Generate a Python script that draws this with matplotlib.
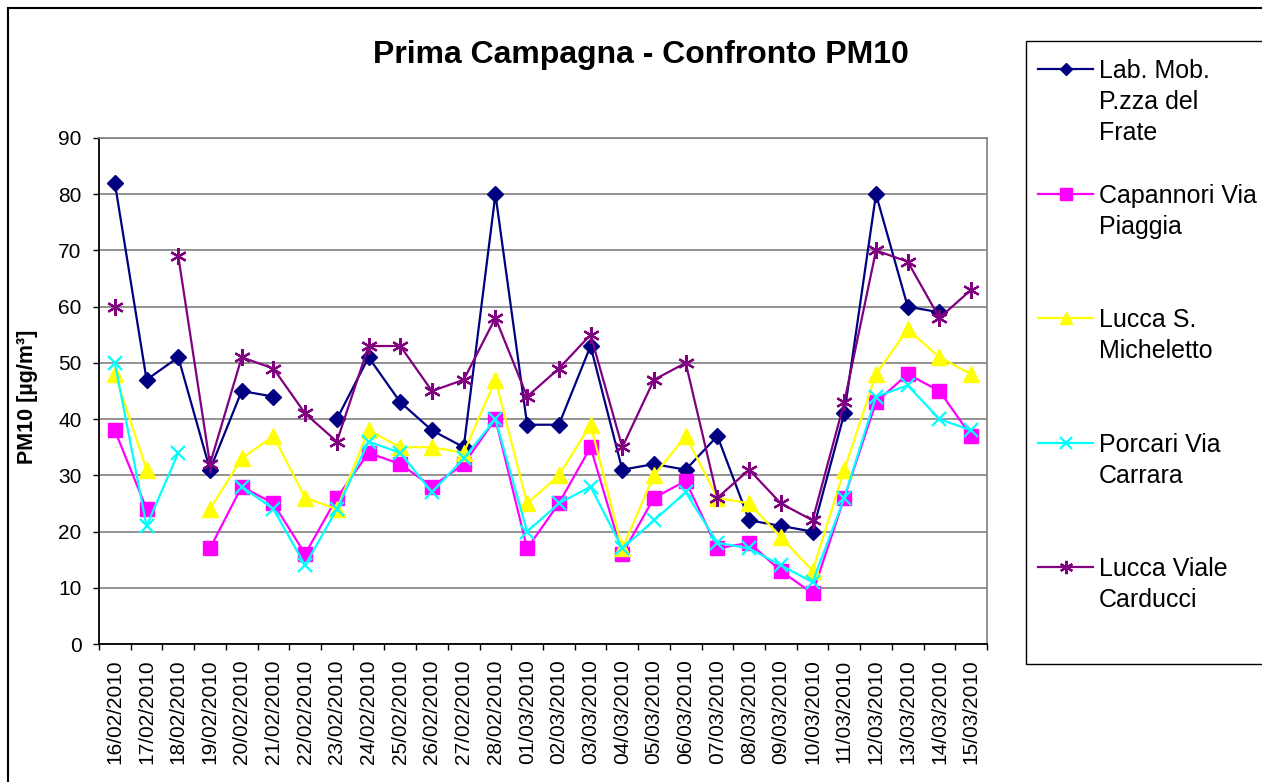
import numpy as np
import matplotlib
matplotlib.use('Agg')
import matplotlib.pyplot as plt
from matplotlib.lines import Line2D
from matplotlib.patches import Rectangle

nan = np.nan

dates = ['16/02/2010', '17/02/2010', '18/02/2010', '19/02/2010', '20/02/2010',
         '21/02/2010', '22/02/2010', '23/02/2010', '24/02/2010', '25/02/2010',
         '26/02/2010', '27/02/2010', '28/02/2010', '01/03/2010', '02/03/2010',
         '03/03/2010', '04/03/2010', '05/03/2010', '06/03/2010', '07/03/2010',
         '08/03/2010', '09/03/2010', '10/03/2010', '11/03/2010', '12/03/2010',
         '13/03/2010', '14/03/2010', '15/03/2010']

lab_mob = [82, 47, 51, 31, 45, 44, nan, 40, 51, 43, 38, 35, 80, 39, 39, 53, 31,
           32, 31, 37, 22, 21, 20, 41, 80, 60, 59, nan]
capannori = [38, 24, nan, 17, 28, 25, 16, 26, 34, 32, 28, 32, 40, 17, 25, 35, 16,
             26, 29, 17, 18, 13, 9, 26, 43, 48, 45, 37]
micheletto = [48, 31, nan, 24, 33, 37, 26, 24, 38, 35, 35, 34, 47, 25, 30, 39, 17,
              30, 37, 26, 25, 19, 13, 31, 48, 56, 51, 48]
porcari = [50, 21, 34, nan, 28, 24, 14, 24, 36, 34, 27, 33, 40, 20, 25, 28, 17,
           22, 27, 18, 17, 14, 11, 26, 44, 46, 40, 38]
carducci = [60, nan, 69, 32, 51, 49, 41, 36, 53, 53, 45, 47, 58, 44, 49, 55, 35,
            47, 50, 26, 31, 25, 22, 43, 70, 68, 58, 63]

# legend text, wrapped like the original
names = [['Lab. Mob.', 'P.zza del', 'Frate'],
         ['Capannori Via', 'Piaggia'],
         ['Lucca S.', 'Micheletto'],
         ['Porcari Via', 'Carrara'],
         ['Lucca Viale', 'Carducci']]

values = [lab_mob, capannori, micheletto, porcari, carducci]
colors = ['#000080', '#FF00FF', '#FFFF00', '#00FFFF', '#800080']
markers = ['D', 's', '^', 'x', (6, 2, 0)]
msizes = [8, 10, 11, 10, 12]

plt.rcParams['font.family'] = ['Liberation Sans', 'DejaVu Sans']

W, H = 1262, 782
fig = plt.figure(figsize=(W / 100, H / 100), dpi=100)
ax = fig.add_axes([99 / W, 1 - 644 / H, (987 - 99) / W, (644 - 138) / H])

x = np.arange(len(dates))
handles = []
for vals, c, m, ms in zip(values, colors, markers, msizes):
    ln, = ax.plot(x, vals, color=c, marker=m, markersize=ms, lw=1.6,
                  markeredgewidth=1.6 if m in ('x', (6, 2, 0)) else 1,
                  markeredgecolor=c, markerfacecolor=c)
    handles.append(ln)

ax.set_xlim(-0.5, len(dates) - 0.5)
ax.set_ylim(0, 90)
ax.set_yticks(range(0, 91, 10))
ax.set_xticks(x)
ax.set_xticklabels(dates, rotation=90)
ax.set_xticks(np.arange(-0.5, len(dates), 1), minor=True)
ax.tick_params(axis='x', which='major', length=0, pad=11, labelsize=15)
ax.tick_params(axis='x', which='minor', length=4.5, width=1, direction='out')
ax.tick_params(axis='y', length=4.5, width=1, pad=8, labelsize=15)
ax.yaxis.grid(True, color='#808080', lw=1.2)
ax.set_axisbelow(True)
for s in ('top', 'right'):
    ax.spines[s].set_color('#808080')
    ax.spines[s].set_linewidth(1.2)
for s in ('left', 'bottom'):
    ax.spines[s].set_color('#000000')
    ax.spines[s].set_linewidth(1.3)

fig.text(641 / W, 1 - 63 / H, 'Prima Campagna - Confronto PM10', ha='center',
         va='baseline', fontsize=23, fontweight='bold')
fig.text(27 / W, 1 - 397 / H, 'PM10 [µg/m³]', rotation=90, ha='center',
         va='center', fontsize=15.5, fontweight='bold')

# legend: one row per text line, four rows per entry
blank = Line2D([], [], linestyle='none')
leg_h, leg_l = [], []
for h, lines in zip(handles, names):
    rows = lines + [' '] * (4 - len(lines))
    for i, t in enumerate(rows):
        leg_h.append(h if i == 0 else blank)
        leg_l.append(t)
leg_h, leg_l = leg_h[:-2], leg_l[:-2]
fig.legend(leg_h, leg_l, loc='upper left', bbox_to_anchor=(1038 / W, 1 - 59 / H),
           bbox_transform=fig.transFigure, frameon=False, fontsize=18,
           handlelength=2.2, handletextpad=0.25, labelspacing=0.285,
           borderpad=0, borderaxespad=0, markerscale=0.8)

fig.patches.append(Rectangle((1026 / W, 1 - 664 / H), 260 / W, (664 - 41) / H,
                             transform=fig.transFigure, fill=False,
                             edgecolor='#000000', lw=1))
fig.patches.append(Rectangle((8 / W, -0.1), 1.2, 1.1 - 8 / H,
                             transform=fig.transFigure, fill=False,
                             edgecolor='#000000', lw=1.5))

fig.savefig('out.png', dpi=100)
